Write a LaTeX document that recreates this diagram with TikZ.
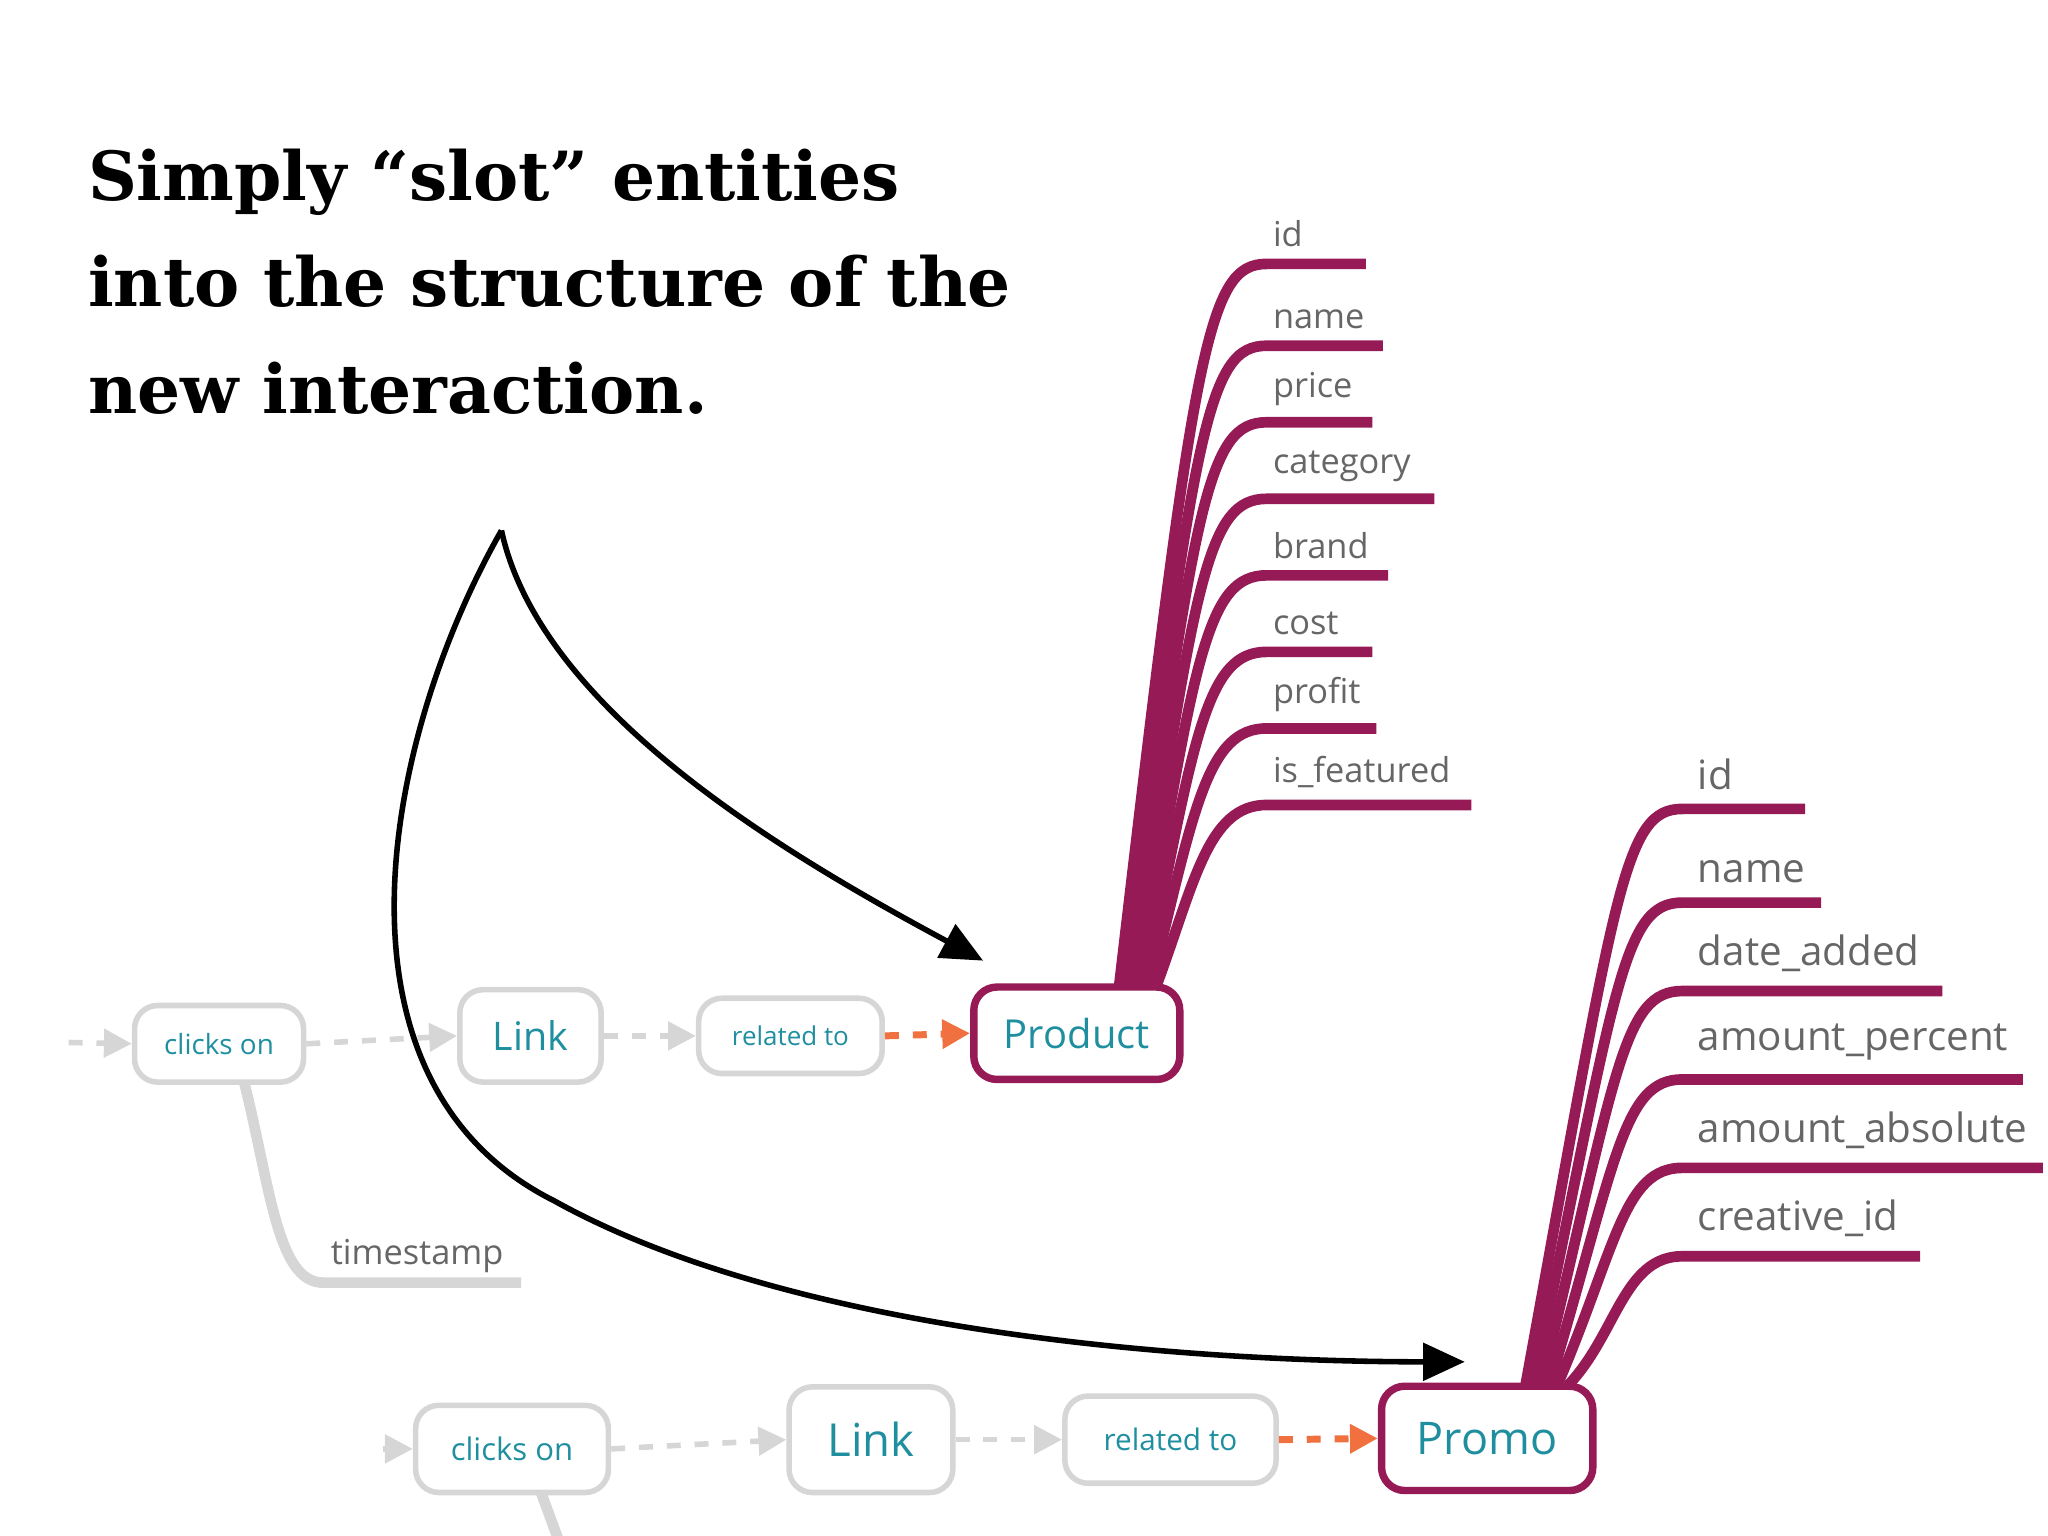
\documentclass[tikz,border=0pt]{standalone}
\usepackage{fontspec}
\setmainfont{DejaVu Serif}
\newfontfamily\lab{Open Sans}
\usetikzlibrary{arrows.meta}
\definecolor{plum}{HTML}{951A55}
\definecolor{tealtxt}{HTML}{1F8FA0}
\definecolor{lgray}{HTML}{D6D6D6}
\definecolor{ltxt}{HTML}{666666}
\definecolor{orng}{HTML}{F07040}
\newcommand{\fs}[1]{\fontsize{#1}{#1}\selectfont}
\tikzset{
 box/.style={draw=lgray,line width=1.2pt,rounded corners=5pt,text=tealtxt,inner sep=0pt},
 ent/.style={draw=plum,line width=1.6pt,rounded corners=5pt,text=tealtxt,inner sep=0pt},
 gdash/.style={draw=lgray,line width=1.2pt,dashed,-{Triangle[length=6pt,width=6pt]}},
 odash/.style={draw=orng,line width=1.5pt,dashed,-{Triangle[length=6pt,width=6pt]}},
 attr/.style={draw=plum,line width=2.3pt},
 alab/.style={anchor=south west,text=ltxt,font=\lab\fs{7.4},inner sep=0pt},
 blab/.style={anchor=south west,text=ltxt,font=\lab\fs{8.7},inner sep=0pt},
 blk/.style={draw=black,line width=1.2pt,-{Triangle[length=9pt,width=8pt]}}
}
\begin{document}
\begin{tikzpicture}[x=0.01cm,y=-0.01cm]
\useasboundingbox (0,0) rectangle (1552,1164);
\clip (0,0) rectangle (1552,1164);
\node[anchor=north west,align=left,font=\bfseries\fontsize{14.6}{23}\selectfont,inner sep=0pt] (title) at (66,112) {Simply “slot” entities\\into the structure of the\\new interaction.};
% row 1
\node[box,minimum width=1.28cm,minimum height=0.58cm,font=\lab\fs{6}] (c1) at (166,791) {clicks on};
\node[box,minimum width=1.07cm,minimum height=0.7cm,font=\lab\fs{8.5}] (l1) at (402,785) {Link};
\node[box,minimum width=1.39cm,minimum height=0.57cm,font=\lab\fs{5.6}] (r1) at (599,785) {related to};
\node[ent,minimum width=1.56cm,minimum height=0.7cm,font=\lab\fs{8.6}] (p1) at (816,783) {Product};
\coordinate (s1) at (52,790);
\draw[gdash] (s1) -- (c1.west);
\draw[gdash] (c1.east) -- (l1.west);
\draw[gdash] (l1.east) -- (r1.west);
\draw[odash] (r1.east) -- (p1.west);
\coordinate (ts) at (395,972);
\draw[draw=lgray,line width=2.3pt] (185,820) .. controls (205,900) and (210,972) .. (245,972) -- (ts);
\node[alab] (tsl) at (250,965) {timestamp};
% row 2
\node[box,minimum width=1.46cm,minimum height=0.66cm,font=\lab\fs{6.7}] (c2) at (388,1098) {clicks on};
\node[box,minimum width=1.24cm,minimum height=0.8cm,font=\lab\fs{9.8}] (l2) at (660,1091) {Link};
\node[box,minimum width=1.6cm,minimum height=0.66cm,font=\lab\fs{6.4}] (r2) at (887,1091) {related to};
\node[ent,minimum width=1.6cm,minimum height=0.79cm,font=\lab\fs{9.7}] (p2) at (1127,1090) {Promo};
\coordinate (s2) at (290,1098);
\draw[gdash] (s2) -- (c2.west);
\draw[gdash] (c2.east) -- (l2.west);
\draw[gdash] (l2.east) -- (r2.west);
\draw[odash] (r2.east) -- (p2.west);
\draw[draw=lgray,line width=2.3pt] (410,1131) -- (428,1180);
% product attributes
\foreach \y/\e/\t/\b in {200/1035/id/848,262/1048/name/852,320/1040/price/856,378/1087/category/860,436/1052/brand/864,494/1040/cost/868,552/1043/profit/872,610/1115/is\_featured/876}{
 \draw[attr] (\b,748) .. controls (905,\y+60) and (915,\y) .. (960,\y) -- (\e,\y);
 \node[alab] at (964,\y-12) {\t};
}
% promo attributes
\foreach \y/\e/\t/\b in {613/1368/id/1156,684/1380/name/1162,751/1472/date\_added/1168,818/1533/amount\_percent/1174,885/1548/amount\_absolute/1180,952/1455/creative\_id/1188}{
 \draw[attr] (\b,1050) .. controls (1225,\y+60) and (1230,\y) .. (1275,\y) -- (\e,\y);
 \node[blab] at (1286,\y-14) {\t};
}
% black arrows
\coordinate (src) at (380,402);
\coordinate (tp) at (745,728);
\draw[blk] (src) .. controls (410,540) and (600,650) .. (tp);
\draw[blk] (src) .. controls (290,560) and (240,820) .. (420,910) .. controls (600,1010) and (900,1032) .. (1110,1032);
\end{tikzpicture}
\end{document}
